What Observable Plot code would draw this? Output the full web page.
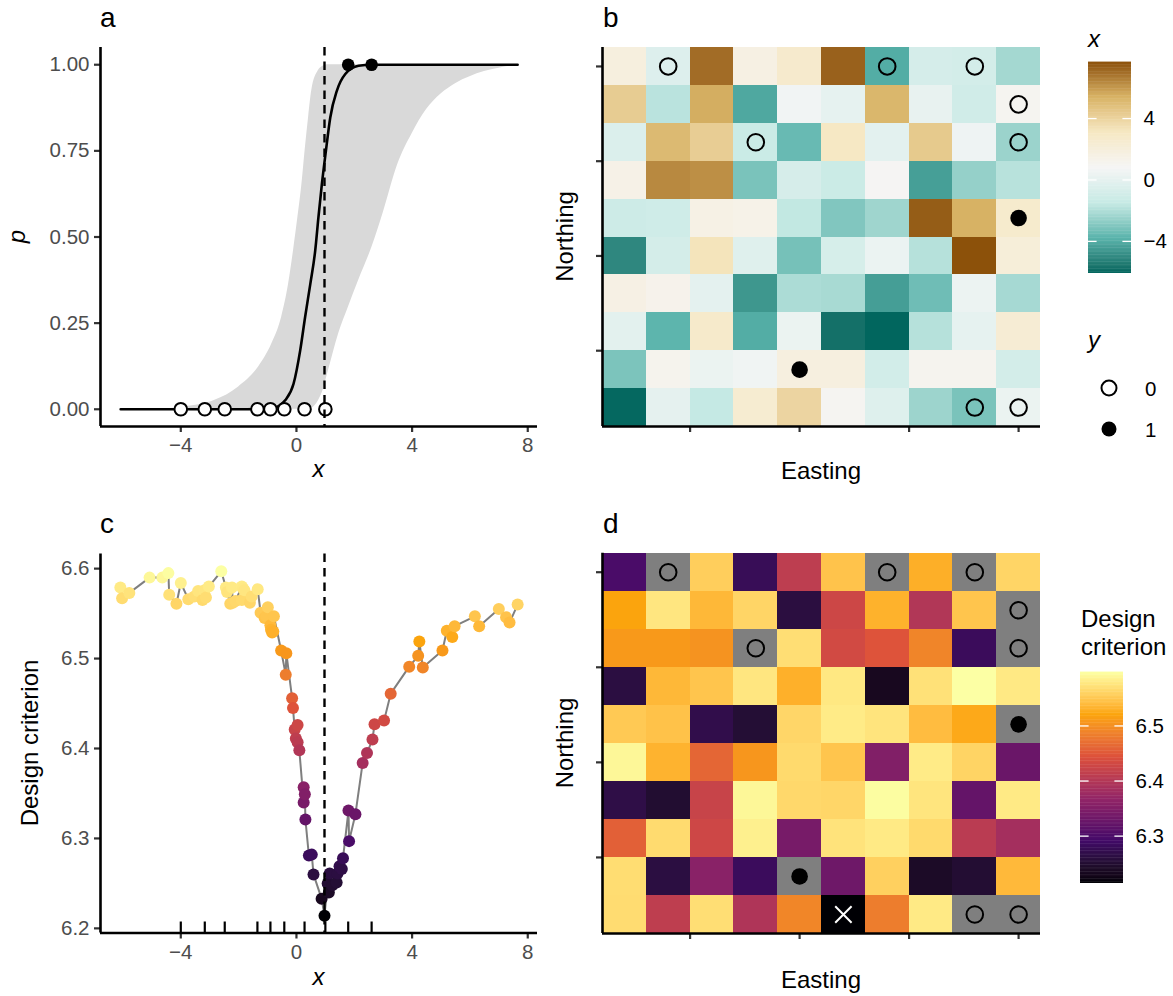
<!DOCTYPE html>
<html><head><meta charset="utf-8">
<script src="https://cdn.jsdelivr.net/npm/d3@7"></script>
<script src="https://cdn.jsdelivr.net/npm/@observablehq/plot@0.6"></script>
<style>
body{margin:0;background:#fff;}
#fig{position:relative;width:1173px;height:996px;overflow:hidden;background:#fff;}
#fig svg{position:absolute;}
</style></head><body><div id="fig"></div><script>
// ---------- DATA ----------
// Panel a: fitted probability curve
const curveX = [-6.08, -2.0, -1.2, -0.85, -0.6, -0.39, -0.10, 0.13, 0.30, 0.48, 0.65, 0.76, 0.88, 1.02, 1.17, 1.40, 1.69, 2.15, 2.6, 7.65];
const curveP = [0, 0, 0.001, 0.003, 0.01, 0.026, 0.074, 0.171, 0.268, 0.364, 0.461, 0.557, 0.654, 0.751, 0.847, 0.925, 0.973, 0.997, 1.0, 1.0];
// Panel a: uncertainty band
const bandX  = [-6.08, -4.5, -3.86, -2.82, -2.0, -1.31, -0.85, -0.51, -0.27, -0.10, 0.05, 0.19, 0.30, 0.42, 0.53, 0.76, 0.90, 1.11, 1.46, 1.80, 2.15, 2.61, 3.0, 3.5, 4.0, 4.5, 5.0, 5.5, 6.0, 6.5, 7.0, 7.65];
const bandHi = [0, 0.001, 0.007, 0.026, 0.065, 0.123, 0.19, 0.268, 0.364, 0.461, 0.557, 0.654, 0.751, 0.847, 0.925, 0.983, 0.995, 1, 1, 1, 1, 1, 1, 1, 1, 1, 1, 1, 1, 1, 1, 1];
const bandLo = [0, 0, 0, 0, 0, 0, 0, 0, 0, 0, 0, 0, 0, 0, 0.003, 0.025, 0.05, 0.113, 0.219, 0.297, 0.374, 0.47, 0.57, 0.71, 0.80, 0.87, 0.915, 0.945, 0.965, 0.98, 0.99, 1.0];
// Sampled locations (x covariate, binary response y, grid row/col)
const sampX   = [-4.0, -3.17, -2.48, -1.35, -0.9, -0.42, 0.28, 1.0, 1.79, 2.6];
const sampY   = [0, 0, 0, 0, 0, 0, 0, 0, 1, 1];
const sampRow = [1, 10, 3, 3, 1, 1, 10, 2, 9, 5];
const sampCol = [7, 9, 10, 4, 9, 2, 10, 10, 5, 10];
// Covariate x on the 10x10 grid (row 1 = north)
const gridX = [
  [1.82, -0.42, 7.00, 1.61, 2.63, 7.25, -4.0, -0.84, -0.9, -2.29],
  [4.25, -1.80, 5.47, -4.15, 0.59, 0.04, 5.20, 0.10, -1.05, 1.0],
  [-0.53, 5.05, 4.21, -1.35, -3.53, 3.03, -0.12, 4.37, 0.43, -2.48],
  [1.42, 6.32, 6.17, -3.18, -0.80, -1.34, 0.87, -4.40, -2.60, -1.85],
  [-1.24, -1.10, 1.49, 1.39, -1.61, -3.03, -2.40, 7.37, 5.39, 2.6],
  [-5.08, -0.88, 3.26, -0.35, -3.25, -0.78, 0.29, -1.89, 7.65, 2.04],
  [1.57, 1.24, -0.06, -4.64, -2.11, -2.20, -4.43, -3.40, 0.31, -2.23],
  [-0.15, -3.74, 2.70, -4.0, 0.25, -5.78, -6.09, -1.89, 0.04, 2.29],
  [-3.13, 1.15, 0.25, 0.53, 1.79, 1.80, -0.99, 1.12, 1.08, -0.90],
  [-6.03, -0.02, -1.55, 2.44, 3.90, 0.97, -0.37, -2.44, -3.17, 0.28]
];
// Design criterion on the grid (null = already sampled)
const gridCrit = [
  [6.297, null, 6.555, 6.278, 6.410, 6.546, null, 6.529, null, 6.561],
  [6.519, 6.576, 6.536, 6.561, 6.260, 6.426, 6.531, 6.398, 6.547, null],
  [6.509, 6.509, 6.503, null, 6.569, 6.431, 6.445, 6.490, 6.281, null],
  [6.261, 6.536, 6.547, 6.576, 6.530, 6.577, 6.233, 6.571, 6.597, 6.578],
  [6.551, 6.545, 6.269, 6.251, 6.562, 6.580, 6.574, 6.540, 6.524, null],
  [6.590, 6.532, 6.461, 6.506, 6.565, 6.547, 6.349, 6.580, 6.560, 6.327],
  [6.266, 6.248, 6.421, 6.590, 6.564, 6.562, 6.595, 6.575, 6.321, 6.579],
  [6.456, 6.566, 6.427, 6.584, 6.340, 6.573, 6.579, 6.565, 6.407, 6.384],
  [6.568, 6.261, 6.357, 6.282, null, 6.331, 6.557, 6.240, 6.250, 6.537],
  [6.567, 6.411, 6.569, 6.395, 6.491, 6.214, 6.482, 6.579, null, null]
];
// Next selected location
const nextRow = 10, nextCol = 6;
// Tick values
const xTicks = [-4, 0, 4, 8];
const pTicks = [0, 0.25, 0.5, 0.75, 1];
const critTicks = [6.2, 6.3, 6.4, 6.5, 6.6];
const gridTicks = [2, 4.5, 7, 9.5];
const xLegendTicks = [4, 0, -4];
const critLegendTicks = [6.5, 6.4, 6.3];
// Palettes (brewer BrBG-7 reversed, inferno sampled at 6 colours)
const brbg = ["#01665e", "#5ab4ac", "#c7eae5", "#f5f5f5", "#f6e8c3", "#d8b365", "#8c510a"];
const inferno6 = ["#000004", "#420a68", "#932667", "#dd513a", "#fca50a", "#fcffa4"];

// ---------- derived tables ----------
const curve = curveX.map((x, i) => ({x, p: curveP[i]}));
const band = bandX.map((x, i) => ({x, lo: bandLo[i], hi: bandHi[i]}));
const samples = sampX.map((x, i) => ({x, y: sampY[i], row: sampRow[i], col: sampCol[i]}));
const cells = [];
gridX.forEach((r, ri) => r.forEach((v, ci) => cells.push({row: ri + 1, col: ci + 1, x: v, crit: gridCrit[ri][ci]})));
const cand = cells.filter(d => d.crit != null).sort((a, b) => a.x - b.x);
const nextCell = cells.find(d => d.row === nextRow && d.col === nextCol);
const nextX = nextCell.x;
const xExt = d3.extent(cells, d => d.x);
const critDom = d3.extent(cand, d => d.crit);
const stops = (ext, n) => d3.range(n).map(i => ext[0] + i * (ext[1] - ext[0]) / (n - 1));
const xColor = {type: "linear", domain: stops(xExt, brbg.length), range: brbg, interpolate: "lab"};
const critColor = {type: "linear", domain: stops(critDom, inferno6.length), range: inferno6, interpolate: "lab"};
const pad = (e, f = 0.05) => [e[0] - f * (e[1] - e[0]), e[1] + f * (e[1] - e[0])];
const xDom = pad(xExt);
const pDom = [-0.05, 1.05];
const cDom = pad(critDom);

// ---------- styling ----------
const font = '"Liberation Sans", Arial, Helvetica, sans-serif';
const tickCol = "#333333", labCol = "#4d4d4d";
const tickFont = 20.5;
const axW = 2.6, tkW = 2.2;
const fig = document.getElementById("fig");
function place(svg, left, top) { svg.style.left = left + "px"; svg.style.top = top + "px"; fig.appendChild(svg); }
const baseStyle = {fontFamily: font, background: "transparent", overflow: "visible"};
const openS = samples.filter(d => d.y === 0), fillS = samples.filter(d => d.y === 1);
const axisOpts = {tickSize: 6, tickPadding: 5, fontSize: tickFont, stroke: tickCol, strokeWidth: tkW, fill: labCol, label: null};

// ---------- panel a ----------
const pa = Plot.plot({
  width: 560, height: 490, marginLeft: 100, marginRight: 23, marginTop: 47, marginBottom: 64,
  style: baseStyle,
  x: {domain: xDom}, y: {domain: pDom},
  marks: [
    Plot.areaY(band, {x: "x", y1: "lo", y2: "hi", fill: "#d9d9d9", curve: "monotone-x"}),
    Plot.line(curve, {x: "x", y: "p", stroke: "black", strokeWidth: 2.6, curve: "monotone-x"}),
    Plot.dot(openS, {x: "x", y: "y", r: 6.3, fill: "white", stroke: "black", strokeWidth: 2}),
    Plot.dot(fillS, {x: "x", y: "y", r: 6.3, fill: "black"}),
    Plot.ruleX([nextX], {stroke: "black", strokeWidth: 2.4, strokeDasharray: "8.5,6"}),
    Plot.axisX({...axisOpts, ticks: xTicks}),
    Plot.axisY({...axisOpts, ticks: pTicks, tickFormat: d3.format(".2f")}),
    Plot.ruleX([xDom[0]], {stroke: "black", strokeWidth: axW}),
    Plot.ruleY([pDom[0]], {stroke: "black", strokeWidth: axW})
  ]
});
place(pa, 0, 0);

// ---------- panel c ----------
const rugLen = 11 * (cDom[1] - cDom[0]) / 379;
const pc = Plot.plot({
  width: 560, height: 506, marginLeft: 100, marginRight: 23, marginTop: 63.6, marginBottom: 63.5,
  style: baseStyle,
  x: {domain: xDom}, y: {domain: cDom},
  color: critColor,
  marks: [
    Plot.line(cand, {x: "x", y: "crit", stroke: "#7f7f7f", strokeWidth: 2}),
    Plot.dot(cand, {x: "x", y: "crit", fill: "crit", r: 6}),
    Plot.ruleX([nextX], {stroke: "black", strokeWidth: 2.4, strokeDasharray: "8.5,6"}),
    Plot.ruleX(samples, {x: "x", y1: cDom[0], y2: cDom[0] + rugLen, stroke: "black", strokeWidth: 2.2}),
    Plot.axisX({...axisOpts, ticks: xTicks}),
    Plot.axisY({...axisOpts, ticks: critTicks, tickFormat: d3.format(".1f")}),
    Plot.ruleX([xDom[0]], {stroke: "black", strokeWidth: axW}),
    Plot.ruleY([cDom[0]], {stroke: "black", strokeWidth: axW})
  ]
});
place(pc, 0, 490);

// ---------- panel b ----------
const cellRect = {x1: d => d.col - 1, x2: d => d.col, y1: d => 10 - d.row, y2: d => 11 - d.row, shapeRendering: "crispEdges"};
const cellX = d => d.col - 0.5, cellY = d => 10.5 - d.row;
const gridAxes = [
  Plot.axisX({...axisOpts, ticks: gridTicks, tickFormat: () => ""}),
  Plot.axisY({...axisOpts, ticks: gridTicks, tickFormat: () => ""}),
  Plot.ruleX([0], {stroke: "black", strokeWidth: axW}),
  Plot.ruleY([0], {stroke: "black", strokeWidth: axW})
];
const pb = Plot.plot({
  width: 490, height: 490, marginLeft: 42, marginRight: 10, marginTop: 47, marginBottom: 64,
  style: baseStyle,
  x: {domain: [0, 10]}, y: {domain: [0, 10]},
  color: xColor,
  marks: [
    Plot.rect(cells, {...cellRect, fill: "x"}),
    Plot.dot(openS, {x: cellX, y: cellY, r: 8.3, fill: "none", stroke: "black", strokeWidth: 2}),
    Plot.dot(fillS, {x: cellX, y: cellY, r: 8.3, fill: "black"}),
    ...gridAxes
  ]
});
place(pb, 560, 0);

// ---------- panel d ----------
const pd = Plot.plot({
  width: 490, height: 506, marginLeft: 42, marginRight: 10, marginTop: 62.7, marginBottom: 63,
  style: baseStyle,
  x: {domain: [0, 10]}, y: {domain: [0, 10]},
  color: critColor,
  marks: [
    Plot.rect(cells.filter(d => d.crit != null), {...cellRect, fill: "crit"}),
    Plot.rect(cells.filter(d => d.crit == null), {...cellRect, fill: "#7f7f7f"}),
    Plot.dot(openS, {x: cellX, y: cellY, r: 8.3, fill: "none", stroke: "black", strokeWidth: 2}),
    Plot.dot(fillS, {x: cellX, y: cellY, r: 8.3, fill: "black"}),
    Plot.dot([nextCell], {x: cellX, y: cellY, symbol: "times", r: 7.5, stroke: "white", strokeWidth: 2}),
    ...gridAxes
  ]
});
place(pd, 560, 490);

// ---------- colour bars ----------
function colorbar(domain, colorOpts, ticks, fmt, w, h) {
  const n = 150;
  const slices = d3.range(n).map(i => ({a: domain[0] + i * (domain[1] - domain[0]) / n, b: domain[0] + (i + 1) * (domain[1] - domain[0]) / n}));
  return Plot.plot({
    width: 95, height: h, margin: 0,
    style: baseStyle,
    x: {domain: [0, 95], range: [0, 95], axis: null},
    y: {domain, range: [h, 0], axis: null},
    color: colorOpts,
    marks: [
      Plot.rect(slices, {x1: 0, x2: w, y1: "a", y2: d => d.b + (d.b - d.a) * 0.3, fill: d => (d.a + d.b) / 2}),
      Plot.ruleY(ticks, {x1: 0, x2: w / 5, stroke: "white", strokeWidth: 1.3}),
      Plot.ruleY(ticks, {x1: w - w / 5, x2: w, stroke: "white", strokeWidth: 1.3}),
      Plot.text(ticks, {x: w + 12, y: d => d, text: fmt, textAnchor: "start", fontSize: tickFont, fill: "black"})
    ]
  });
}
const minusFmt = d => (d < 0 ? "\u2212" : "") + Math.abs(d);
place(colorbar(xExt, xColor, xLegendTicks, minusFmt, 43, 211), 1088, 62);
place(colorbar(critDom, critColor, critLegendTicks, d => d.toFixed(1), 43, 211), 1080, 672);

// ---------- text overlay ----------
const ov = d3.create("svg").attr("width", 1173).attr("height", 996)
  .style("left", "0px").style("top", "0px").style("font-family", font).style("pointer-events", "none");
function txt(x, y, s, o = {}) {
  const t = ov.append("text").attr("x", x).attr("y", y).text(s)
    .attr("font-size", o.size || 24).attr("text-anchor", o.anchor || "start").attr("fill", "black");
  if (o.italic) t.attr("font-style", "italic");
  if (o.rotate) t.attr("transform", `rotate(-90 ${x} ${y})`);
  return t;
}
txt(100, 27, "a", {size: 28});
txt(603, 27, "b", {size: 28});
txt(100, 533, "c", {size: 28});
txt(603, 533, "d", {size: 28});
txt(318.5, 477, "x", {anchor: "middle", italic: true});
txt(318.5, 985, "x", {anchor: "middle", italic: true});
txt(25, 236.5, "p", {anchor: "middle", italic: true, rotate: true});
txt(38, 743, "Design criterion", {anchor: "middle", rotate: true});
txt(821, 479, "Easting", {anchor: "middle"});
txt(821, 988, "Easting", {anchor: "middle"});
txt(573, 236.5, "Northing", {anchor: "middle", rotate: true});
txt(573, 743, "Northing", {anchor: "middle", rotate: true});
txt(1088, 47, "x", {italic: true});
txt(1088, 348, "y", {italic: true});
txt(1081, 627, "Design");
txt(1081, 655, "criterion");
// y legend keys
ov.append("circle").attr("cx", 1109).attr("cy", 388).attr("r", 7.5).attr("fill", "white").attr("stroke", "black").attr("stroke-width", 2);
ov.append("circle").attr("cx", 1109).attr("cy", 429).attr("r", 7.5).attr("fill", "black");
txt(1145, 396, "0", {size: tickFont});
txt(1145, 437, "1", {size: tickFont});
fig.appendChild(ov.node());
</script></body></html>
